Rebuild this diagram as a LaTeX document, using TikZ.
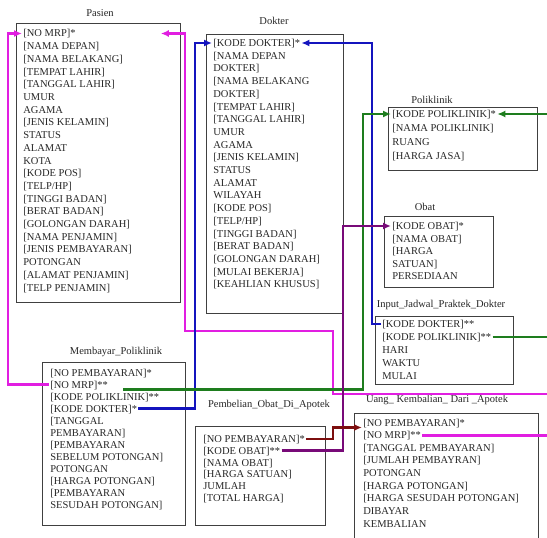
\documentclass[tikz,border=0pt]{standalone}
\usepackage{fontspec}
\setmainfont{Liberation Serif}
\usetikzlibrary{arrows.meta,calc}

\definecolor{linkpink}{RGB}{225,30,225}
\definecolor{linkblue}{RGB}{20,20,190}
\definecolor{linkgreen}{RGB}{30,125,30}
\definecolor{linkpurple}{RGB}{120,10,120}
\definecolor{linkred}{RGB}{125,15,15}
\newcommand{\entfont}{\fontsize{10.5}{12}\selectfont}

\begin{document}
\begin{tikzpicture}[x=1pt, y=-1pt, thick]

	\tikzstyle{ebox}=[rectangle, draw=black!75, line width=0.8pt, anchor=north west, inner sep=0pt]
	\tikzstyle{etitle}=[inner sep=0pt, font=\entfont, text=black!85]
	\tikzstyle{erow}=[anchor=base west, inner sep=1pt, text height=7pt, text depth=0pt, font=\entfont, text=black!85]
	\tikzstyle{link}=[line width=2.8pt, -{Latex[length=8pt,width=7pt]}]

	\useasboundingbox (0,0) rectangle (547,538);

	% Pasien
	\node[etitle] (pasien-t) at (100,13) {Pasien};
	\node[ebox, minimum width=164pt, minimum height=279pt] (pasien) at (16,23) {};
	\foreach \field [count=\i] in {{[NO MRP]*}, {[NAMA DEPAN]}, {[NAMA BELAKANG]}, {[TEMPAT LAHIR]},
		{[TANGGAL LAHIR]}, UMUR, AGAMA, {[JENIS KELAMIN]}, STATUS, ALAMAT, KOTA, {[KODE POS]},
		{[TELP/HP]}, {[TINGGI BADAN]}, {[BERAT BADAN]}, {[GOLONGAN DARAH]}, {[NAMA PENJAMIN]},
		{[JENIS PEMBAYARAN]}, POTONGAN, {[ALAMAT PENJAMIN]}, {[TELP PENJAMIN]}}
		\node[erow] (pasien-\i) at (22, {37+12.7*(\i-1)}) {\field};

	% Dokter
	\node[etitle] (dokter-t) at (274,21) {Dokter};
	\node[ebox, minimum width=137pt, minimum height=279pt] (dokter) at (206,34) {};
	\foreach \field [count=\i] in {{[KODE DOKTER]*}, {[NAMA DEPAN}, {DOKTER]}, {[NAMA BELAKANG}, {DOKTER]},
		{[TEMPAT LAHIR]}, {[TANGGAL LAHIR]}, UMUR, AGAMA, {[JENIS KELAMIN]}, STATUS, ALAMAT, WILAYAH,
		{[KODE POS]}, {[TELP/HP]}, {[TINGGI BADAN]}, {[BERAT BADAN]}, {[GOLONGAN DARAH]},
		{[MULAI BEKERJA]}, {[KEAHLIAN KHUSUS]}}
		\node[erow] (dokter-\i) at (212, {46.5+12.7*(\i-1)}) {\field};

	% Poliklinik
	\node[etitle] (poliklinik-t) at (432,100) {Poliklinik};
	\node[ebox, minimum width=149pt, minimum height=63pt] (poliklinik) at (388,107) {};
	\foreach \field [count=\i] in {{[KODE POLIKLINIK]*}, {[NAMA POLIKLINIK]}, RUANG, {[HARGA JASA]}}
		\node[erow] (poliklinik-\i) at (391, {117.5+14*(\i-1)}) {\field};

	% Obat
	\node[etitle] (obat-t) at (425,207) {Obat};
	\node[ebox, minimum width=109pt, minimum height=71pt] (obat) at (384,216) {};
	\foreach \field [count=\i] in {{[KODE OBAT]*}, {[NAMA OBAT]}, {[HARGA}, {SATUAN]}, PERSEDIAAN}
		\node[erow] (obat-\i) at (391, {229.5+12.5*(\i-1)}) {\field};

	% Input_Jadwal_Praktek_Dokter
	\node[etitle] (input-t) at (441,305) {Input\_Jadwal\_Praktek\_Dokter};
	\node[ebox, minimum width=138pt, minimum height=68pt] (input) at (375,316) {};
	\foreach \field [count=\i] in {{[KODE DOKTER]**}, {[KODE POLIKLINIK]**}, HARI, WAKTU, MULAI}
		\node[erow] (input-\i) at (381, {327.5+13*(\i-1)}) {\field};

	% Membayar_Poliklinik
	\node[etitle] (membayar-t) at (116,352) {Membayar\_Poliklinik};
	\node[ebox, minimum width=143pt, minimum height=163pt] (membayar) at (42,362) {};
	\foreach \field [count=\i] in {{[NO PEMBAYARAN]*}, {[NO MRP]**}, {[KODE POLIKLINIK]**}, {[KODE DOKTER]*},
		{[TANGGAL}, {PEMBAYARAN]}, {[PEMBAYARAN}, {SEBELUM POTONGAN]}, POTONGAN, {[HARGA POTONGAN]},
		{[PEMBAYARAN}, {SESUDAH POTONGAN]}}
		\node[erow] (membayar-\i) at (49, {376+12*(\i-1)}) {\field};

	% Pembelian_Obat_Di_Apotek
	\node[etitle] (pembelian-t) at (269,405) {Pembelian\_Obat\_Di\_Apotek};
	\node[ebox, minimum width=130pt, minimum height=99pt] (pembelian) at (195,426) {};
	\foreach \field [count=\i] in {{[NO PEMBAYARAN]*}, {[KODE OBAT]**}, {[NAMA OBAT]}, {[HARGA SATUAN]},
		JUMLAH, {[TOTAL HARGA]}}
		\node[erow] (pembelian-\i) at (202, {442.5+11.8*(\i-1)}) {\field};

	% Uang_Kembalian_Dari_Apotek
	\node[etitle] (uang-t) at (437,400) {Uang\_ Kembalian\_ Dari \_Apotek};
	\node[ebox, minimum width=184pt, minimum height=150pt] (uang) at (354,413) {};
	\foreach \field [count=\i] in {{[NO PEMBAYARAN]*}, {[NO MRP]**}, {[TANGGAL PEMBAYARAN]},
		{[JUMLAH PEMBAYRAN]}, POTONGAN, {[HARGA POTONGAN]}, {[HARGA SESUDAH POTONGAN]}, DIBAYAR, KEMBALIAN}
		\node[erow] (uang-\i) at (362, {426+12.66*(\i-1)}) {\field};

	% relations
	\draw[link, linkpink] (membayar-2.west) -- ++(-41,0) |- (pasien-1.west);
	\draw[link, linkpink] (uang-2.east) -| (556,394) -| (333,331) -| (185,300)
		|- ($(pasien.east |- pasien-1.east)+(-20,0)$);
	\draw[link, linkblue] (membayar-4.east) -| (195,300) |- (dokter-1.west);
	\draw[link, linkblue] (input-1.west) -| (372,300) |- (dokter-1.east);
	\draw[link, linkgreen] ($(membayar-2.east)+(14,5)$) -| (363,300) |- (poliklinik-1.west);
	\draw[link, linkgreen] (input-2.east) -| (556,300) |- (poliklinik-1.east);
	\draw[link, linkpurple] (pembelian-2.east) -| (343,300) |- (obat-1.west);
	\draw[link, linkred] (pembelian-1.east) -| (333,435) |- ($(uang-1.west)+(0,5)$);

\end{tikzpicture}
\end{document}
